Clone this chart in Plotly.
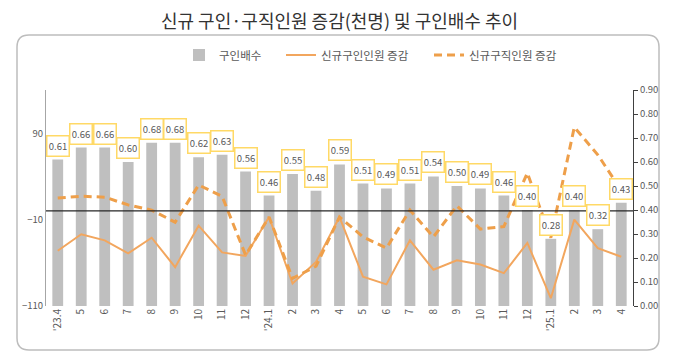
import plotly.graph_objects as go

# ---- data ----
month_labels = ["'23.4", "5", "6", "7", "8", "9", "10", "11", "12",
                "'24.1", "2", "3", "4", "5", "6", "7", "8", "9", "10", "11", "12",
                "'25.1", "2", "3", "4"]
job_ratio = [0.61, 0.66, 0.66, 0.60, 0.68, 0.68, 0.62, 0.63, 0.56,
             0.46, 0.55, 0.48, 0.59, 0.51, 0.49, 0.51, 0.54, 0.50, 0.49, 0.46, 0.40,
             0.28, 0.40, 0.32, 0.43]
new_openings_chg = [-46, -27, -34, -49, -31, -65, -17, -48, -52,
                    -7, -84, -59, -7, -76, -85, -34, -68, -57, -62, -72, -37,
                    -101, -10, -43, -53]
new_seekers_chg = [15, 17, 16, 7, 1, -13, 30, 17, -51,
                   -7, -78, -64, -7, -30, -43, 1, -30, 6, -21, -18, 44,
                   -31, 97, 65, 24]

title_text = "신규 구인·구직인원 증감(천명) 및 구인배수 추이"
series_names = ["구인배수", "신규구인인원 증감", "신규구직인원 증감"]

x_idx = list(range(len(month_labels)))

FONT = "Noto Sans CJK KR"
GRAY_TXT = "#595959"
BAR_COLOR = "#BFBFBF"
LINE_SOLID = "#F2A65E"
LINE_DASH = "#EE9F4A"
BOX_COLOR = "#FFD966"

# page body adds an 8px offset; figure is sized/placed to compensate
OFF = 8
FIG_W, FIG_H = 680 - 2 * OFF, 360 - 2 * OFF
# plot area in screen pixels
L, T, W, H = 46, 90, 587, 216


def px(xp):
    return (xp - L) / W


def py(yp):
    return (T + H - yp) / H


fig = go.Figure()

fig.add_trace(go.Bar(
    x=x_idx, y=job_ratio, name=series_names[0], yaxis="y", legend="legend",
    marker=dict(color=BAR_COLOR, line=dict(width=0)), width=0.46,
))
fig.add_trace(go.Scatter(
    x=x_idx, y=new_openings_chg, name=series_names[1], yaxis="y2", legend="legend2",
    mode="lines", line=dict(color=LINE_SOLID, width=2),
))
fig.add_trace(go.Scatter(
    x=x_idx, y=new_seekers_chg, name=series_names[2], yaxis="y2", legend="legend3",
    mode="lines", line=dict(color=LINE_DASH, width=3, dash="8px,5px"),
))

annotations = []
for xi, v in zip(x_idx, job_ratio):
    annotations.append(dict(
        x=xi, y=v, xref="x", yref="y", text=f"{v:.2f}", showarrow=False,
        yanchor="bottom", yshift=3, width=19, height=17,
        bordercolor=BOX_COLOR, borderwidth=1.5, borderpad=1, bgcolor="white",
        font=dict(family=FONT, size=9.5, color=GRAY_TXT),
    ))

# rounded outer frame
fx0, fx1, fy0, fy1 = px(17), px(659), py(350), py(35)
rx, ry = 12 / W, 12 / H
frame_path = (
    f"M {fx0 + rx},{fy1} L {fx1 - rx},{fy1} Q {fx1},{fy1} {fx1},{fy1 - ry} "
    f"L {fx1},{fy0 + ry} Q {fx1},{fy0} {fx1 - rx},{fy0} "
    f"L {fx0 + rx},{fy0} Q {fx0},{fy0} {fx0},{fy0 + ry} "
    f"L {fx0},{fy1 - ry} Q {fx0},{fy1} {fx0 + rx},{fy1} Z"
)

shapes = [
    dict(type="path", xref="paper", yref="paper", path=frame_path,
         line=dict(color="#BDBDBD", width=1.5), fillcolor="rgba(0,0,0,0)", layer="below"),
    dict(type="line", xref="paper", yref="y2", x0=0, x1=1, y0=0, y1=0,
         line=dict(color="#262626", width=1.3), layer="above"),
]

leg_common = dict(orientation="h", yanchor="middle", y=py(55), xanchor="left",
                  font=dict(family=FONT, size=11.5, color=GRAY_TXT),
                  bgcolor="rgba(0,0,0,0)")

fig.update_layout(
    width=FIG_W, height=FIG_H,
    margin=dict(l=L - OFF, r=FIG_W - (L - OFF) - W, t=T - OFF, b=FIG_H - (T - OFF) - H,
                autoexpand=False),
    paper_bgcolor="white", plot_bgcolor="white",
    font=dict(family=FONT, size=10, color=GRAY_TXT),
    title=dict(text=title_text, x=0.5, xanchor="center", xref="paper",
               y=1 - (22 - OFF) / FIG_H, yanchor="middle",
               font=dict(family=FONT, size=18, color="#333333")),
    showlegend=True,
    legend=dict(leg_common, x=px(179)),
    legend2=dict(leg_common, x=px(281)),
    legend3=dict(leg_common, x=px(429)),
    xaxis=dict(
        range=[-0.5, len(month_labels) - 0.5], automargin=False,
        tickmode="array", tickvals=x_idx, ticktext=month_labels,
        tickangle=-90, showgrid=False, zeroline=False, showline=False,
        ticks="", tickfont=dict(family=FONT, size=10, color=GRAY_TXT),
    ),
    yaxis=dict(
        side="right", range=[0, 0.9], dtick=0.1, tick0=0, tickformat=".2f",
        automargin=False,
        showgrid=False, zeroline=False, showline=True, linecolor="#404040", linewidth=1,
        ticks="outside", ticklen=4, tickcolor="#404040",
        tickfont=dict(family=FONT, size=9.5, color=GRAY_TXT),
    ),
    yaxis2=dict(
        overlaying="y", side="left", range=[-110, 140], automargin=False,
        tickmode="array", tickvals=[-110, -10, 90],
        showgrid=False, zeroline=False, showline=True, linecolor="#A6A6A6", linewidth=1,
        ticks="", tickfont=dict(family=FONT, size=9.5, color=GRAY_TXT),
    ),
    annotations=annotations,
    shapes=shapes,
)

fig.write_html("out.html")
